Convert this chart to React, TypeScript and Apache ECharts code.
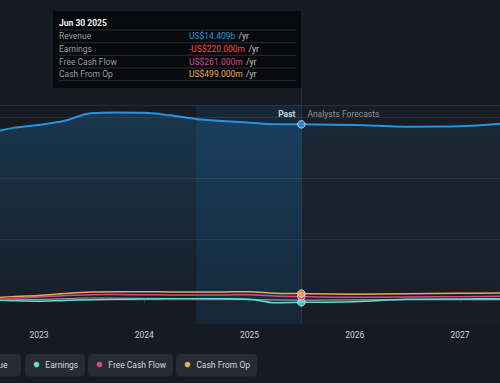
import React, { useEffect, useRef } from "react";
import * as echarts from "echarts";

// ---- data (values in US$ billions) ----
const pastDates = [
  "2022-06-30", "2022-09-30", "2022-12-31", "2023-03-31", "2023-06-30", "2023-09-30",
  "2023-12-31", "2024-03-31", "2024-06-30", "2024-09-30", "2024-12-31", "2025-03-31", "2025-06-30",
];
const pastRevenue = [13.6, 14.1, 14.35, 14.7, 15.33, 15.38, 15.36, 15.15, 14.85, 14.68, 14.55, 14.42, 14.409];
const pastEarnings = [0.0, -0.08, -0.13, -0.06, 0.0, 0.03, 0.05, 0.07, 0.08, 0.07, 0.04, -0.26, -0.22];
const pastFcf = [-0.05, 0.1, 0.22, 0.32, 0.41, 0.42, 0.4, 0.39, 0.38, 0.39, 0.4, 0.3, 0.261];
const pastCfo = [0.1, 0.25, 0.35, 0.5, 0.62, 0.65, 0.65, 0.64, 0.63, 0.64, 0.66, 0.53, 0.499];
const pastOther = [-0.1, -0.03, 0.02, 0.08, 0.14, 0.13, 0.11, 0.1, 0.08, 0.05, 0.0, -0.03, -0.05];

const forecastDates = ["2025-06-30", "2025-12-31", "2026-06-30", "2026-12-31", "2027-06-30"];
const forecastRevenue = [14.409, 14.35, 14.22, 14.25, 14.55];
const forecastEarnings = [-0.22, -0.18, 0.03, 0.06, 0.07];
const forecastFcf = [0.261, 0.19, 0.22, 0.25, 0.28];
const forecastCfo = [0.499, 0.45, 0.48, 0.52, 0.56];
const forecastOther = [-0.05, -0.02, 0.0, 0.0, 0.0];

const xTickYears = [2023, 2024, 2025, 2026, 2027];
const gridValues = [0, 5, 10, 15, 16];
const highlightStart = "2024-06-30";
const splitDate = "2025-06-30";

const tooltipTitle = "Jun 30 2025";
const tooltipLabels = ["Revenue", "Earnings", "Free Cash Flow", "Cash From Op"];
const tooltipValues = ["US$14.409b", "-US$220.000m", "US$261.000m", "US$499.000m"];
const legendNames = ["Revenue", "Earnings", "Free Cash Flow", "Cash From Op"];

// ---- styles ----
const C = {
  bg: "#161b23",
  revenue: "#2394df",
  earnings: "#5fe0d0",
  fcf: "#d6498a",
  cfo: "#eeaa50",
  other: "#9ea3aa",
  earningsText: "#ff4646",
  grid: "rgba(255,255,255,0.07)",
};
const tooltipColors = [C.revenue, C.earningsText, C.fcf, C.cfo];
const legendColors = [C.revenue, C.earnings, C.fcf, C.cfo];
const legendLayout = [
  { left: -45, width: 66 },
  { left: 25, width: 60 },
  { left: 88, width: 85 },
  { left: 176, width: 81 },
];
const FONT = "Roboto, 'Noto Sans', sans-serif";

function toYear(d: string): number {
  const [y, m, dd] = d.split("-").map(Number);
  const s = Date.UTC(y, 0, 1);
  const e = Date.UTC(y + 1, 0, 1);
  return y + (Date.UTC(y, m - 1, dd) - s) / (e - s);
}
const pairs = (dates: string[], vals: number[]) => dates.map((d, i) => [toYear(d), vals[i]]);

const X_MIN = 2022.63;
const X_MAX = 2027.38;

export default function App() {
  const ref = useRef<HTMLDivElement>(null);

  useEffect(() => {
    const chart = echarts.init(ref.current!, null, { renderer: "svg" });
    const splitX = toYear(splitDate);

    const lineBase = (name: string, color: string, data: number[][], width: number, z: number) => ({
      type: "line",
      name,
      data,
      smooth: 0.35,
      symbol: "none",
      lineStyle: { color, width },
      itemStyle: { color },
      z,
      silent: true,
    });

    const option: any = {
      animation: false,
      backgroundColor: C.bg,
      grid: { left: 0, right: 0, top: 105, bottom: 59 },
      xAxis: {
        type: "value",
        min: X_MIN,
        max: X_MAX,
        splitLine: { show: false },
        axisLine: { show: true, lineStyle: { color: "#2f3640", width: 1.5 } },
        axisTick: { show: true, customValues: xTickYears, length: 3, lineStyle: { color: "#3a414c" } },
        axisLabel: {
          customValues: xTickYears,
          formatter: (v: number) => String(Math.round(v)),
          color: "#d0d3d8",
          fontSize: 8.5,
          fontFamily: FONT,
          margin: 6,
        },
      },
      yAxis: {
        type: "value",
        min: -2,
        max: 16,
        splitLine: { show: false },
        axisLine: { show: false },
        axisTick: { show: false },
        axisLabel: { show: false },
      },
      series: [
        {
          ...lineBase("Revenue", C.revenue, pairs(pastDates, pastRevenue), 2, 3),
          areaStyle: {
            color: new echarts.graphic.LinearGradient(0, 0, 0, 1, [
              { offset: 0, color: "rgba(35,148,223,0.32)" },
              { offset: 1, color: "rgba(35,148,223,0.04)" },
            ]),
          },
          markLine: {
            silent: true,
            symbol: "none",
            label: { show: false },
            lineStyle: { color: C.grid, width: 1, type: "solid" },
            data: gridValues.map((v) => ({ yAxis: v })),
          },
          markArea: {
            silent: true,
            itemStyle: { color: "rgba(30,115,185,0.14)" },
            data: [[{ xAxis: toYear(highlightStart) }, { xAxis: splitX }]],
          },
        },
        {
          ...lineBase("Revenue forecast", C.revenue, pairs(forecastDates, forecastRevenue), 2, 3),
          areaStyle: {
            color: new echarts.graphic.LinearGradient(0, 0, 0, 1, [
              { offset: 0, color: "rgba(35,148,223,0.11)" },
              { offset: 1, color: "rgba(35,148,223,0.03)" },
            ]),
          },
          markLine: {
            silent: true,
            symbol: "none",
            label: { show: false },
            lineStyle: { color: "rgba(70,130,180,0.25)", width: 1, type: "solid" },
            data: [{ xAxis: splitX }],
          },
          markArea: {
            silent: true,
            itemStyle: { color: "rgba(255,255,255,0.012)" },
            data: [[{ xAxis: splitX }, { xAxis: X_MAX }]],
          },
        },
        lineBase("Other", C.other, pairs(pastDates, pastOther), 1, 4),
        lineBase("Other forecast", C.other, pairs(forecastDates, forecastOther), 1, 4),
        lineBase("Earnings", C.earnings, pairs(pastDates, pastEarnings), 1.5, 5),
        lineBase("Earnings forecast", C.earnings, pairs(forecastDates, forecastEarnings), 1.5, 5),
        lineBase("Free Cash Flow", C.fcf, pairs(pastDates, pastFcf), 1.5, 6),
        lineBase("Free Cash Flow forecast", C.fcf, pairs(forecastDates, forecastFcf), 1.5, 6),
        lineBase("Cash From Op", C.cfo, pairs(pastDates, pastCfo), 1.5, 7),
        lineBase("Cash From Op forecast", C.cfo, pairs(forecastDates, forecastCfo), 1.5, 7),
        {
          type: "scatter",
          name: "markers",
          silent: true,
          z: 10,
          symbolSize: 7.5,
          data: [
            { value: [splitX, pastEarnings[pastEarnings.length - 1]], itemStyle: { color: C.earnings } },
            { value: [splitX, pastFcf[pastFcf.length - 1]], itemStyle: { color: C.fcf } },
            { value: [splitX, pastCfo[pastCfo.length - 1]], itemStyle: { color: C.cfo } },
            { value: [splitX, pastRevenue[pastRevenue.length - 1]], itemStyle: { color: C.revenue } },
          ].map((d) => ({ ...d, itemStyle: { ...d.itemStyle, borderColor: "#e8eef4", borderWidth: 1 } })),
        },
      ],
    };
    chart.setOption(option);

    const [sx] = chart.convertToPixel({ gridIndex: 0 }, [splitX, 0]) as number[];
    const [, topY] = chart.convertToPixel({ gridIndex: 0 }, [splitX, 16]) as number[];

    const graphics: any[] = [];
    graphics.push({
      type: "line",
      silent: true,
      shape: { x1: sx, y1: 88, x2: sx, y2: topY },
      style: { stroke: "rgba(70,130,180,0.25)", lineWidth: 1 },
    });
    graphics.push({
      type: "text",
      silent: true,
      x: sx - 6,
      y: topY + 9,
      style: { text: "Past", fill: "#e2e4e8", font: `bold 8.5px ${FONT}`, align: "right", verticalAlign: "middle" },
    });
    graphics.push({
      type: "text",
      silent: true,
      x: sx + 6,
      y: topY + 9,
      style: { text: "Analysts Forecasts", fill: "#8a9099", font: `8.5px ${FONT}`, align: "left", verticalAlign: "middle" },
    });

    // tooltip box
    const tx = 53, ty = 11, tw = 248, th = 77;
    const tip: any[] = [
      { type: "rect", shape: { x: tx, y: ty, width: tw, height: th }, style: { fill: "#07090c" } },
      {
        type: "text",
        x: tx + 6,
        y: 22.5,
        style: { text: tooltipTitle, fill: "#f2f2f2", font: `bold 8.5px ${FONT}`, verticalAlign: "middle" },
      },
    ];
    const sepYs = [30, 42.7, 55.3, 68, 80.7];
    sepYs.forEach((y) =>
      tip.push({
        type: "line",
        shape: { x1: tx + 6, y1: y, x2: tx + 243, y2: y },
        style: { stroke: "#2b2f35", lineWidth: 1 },
      })
    );
    tooltipLabels.forEach((lab, i) => {
      const cy = 36.4 + i * 12.65;
      tip.push({
        type: "text",
        x: tx + 6,
        y: cy,
        style: { text: lab, fill: "#9a9ea4", font: `8.5px ${FONT}`, verticalAlign: "middle" },
      });
      tip.push({
        type: "text",
        x: 189,
        y: cy,
        style: {
          text: `{v|${tooltipValues[i]}} {u|/yr}`,
          verticalAlign: "middle",
          rich: {
            v: { fill: tooltipColors[i], font: `8.5px ${FONT}` },
            u: { fill: "#c8c8c8", font: `8.5px ${FONT}` },
          },
        },
      });
    });
    graphics.push({ type: "group", silent: true, children: tip });

    // legend buttons
    legendNames.forEach((name, i) => {
      const L = legendLayout[i];
      graphics.push({
        type: "group",
        silent: true,
        children: [
          {
            type: "rect",
            shape: { x: L.left, y: 354, width: L.width, height: 22.5, r: 4 },
            style: { fill: "#262b34" },
          },
          {
            type: "circle",
            shape: { cx: L.left + 11.5, cy: 364.5, r: 2.8 },
            style: { fill: legendColors[i] },
          },
          {
            type: "text",
            x: L.left + 20.3,
            y: 364.5,
            style: { text: name, fill: "#d4d7dc", font: `8.5px ${FONT}`, verticalAlign: "middle" },
          },
        ],
      });
    });

    chart.setOption({ graphic: graphics });
    return () => chart.dispose();
  }, []);

  return (
    <div
      ref={ref}
      style={{ width: 500, height: 383, position: "fixed", left: 0, top: 0 }}
    />
  );
}
